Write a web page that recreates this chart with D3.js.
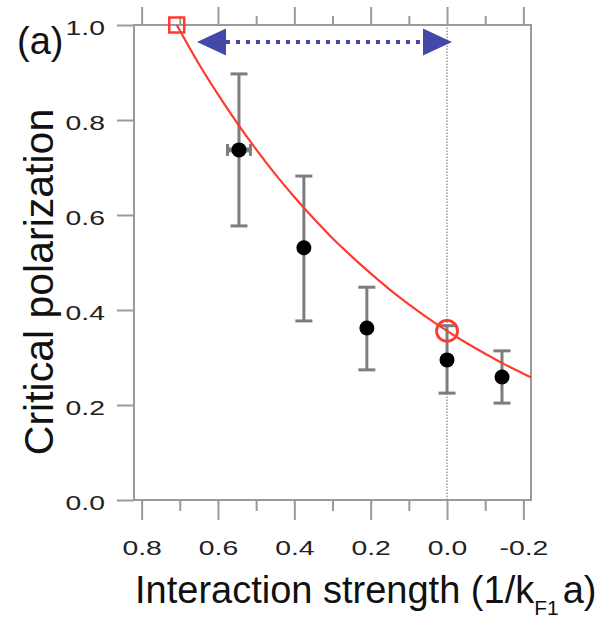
<!DOCTYPE html>
<html>
<head>
<meta charset="utf-8">
<script src="https://cdn.jsdelivr.net/npm/d3@7"></script>
<style>
  html, body { margin: 0; padding: 0; background: #fff; }
  svg { display: block; font-family: "Liberation Sans", Arial, Helvetica, sans-serif; }
</style>
</head>
<body>
<svg id="chart" width="609" height="619"></svg>
<script>
// Measured critical polarization vs. interaction strength
const strength   = [0.545, 0.375, 0.21, 0.0, -0.144];
const critPol    = [0.737, 0.531, 0.362, 0.295, 0.259];
const errLow     = [0.577, 0.377, 0.274, 0.225, 0.204];
const errHigh    = [0.897, 0.682, 0.448, 0.367, 0.314];
const strengthErr = [0.03, 0, 0, 0, 0];

// Theory curve samples
const curveX = [0.708, 0.65, 0.6, 0.55, 0.5, 0.45, 0.4, 0.35, 0.3, 0.25, 0.2, 0.15, 0.1, 0.05, 0.0, -0.05, -0.1, -0.15, -0.2, -0.22];
const curveY = [1.0, 0.918, 0.854, 0.794, 0.738, 0.686, 0.638, 0.593, 0.551, 0.513, 0.477, 0.443, 0.412, 0.383, 0.356, 0.331, 0.308, 0.286, 0.266, 0.258];

// Special markers: square at full polarization, circle at unitarity
const squareMarker = [0.708, 1.0];
const circleMarker = [0.0, 0.356];

// Double arrow spanning the interaction range
const arrowSpan  = [0.655, -0.013];
const arrowLevel = 0.964;

// Axis ticks
const xMajor = [0.8, 0.6, 0.4, 0.2, 0.0, -0.2];
const xTickLabels = ["0.8", "0.6", "0.4", "0.2", "0.0", "-0.2"];
const xMinor = [0.7, 0.5, 0.3, 0.1, -0.1];
const yMajor = [0.0, 0.2, 0.4, 0.6, 0.8, 1.0];
const yTickLabels = ["0.0", "0.2", "0.4", "0.6", "0.8", "1.0"];

const svg = d3.select("#chart");
const L = 134, R = 531, T = 25, B = 500;

const x = d3.scaleLinear().domain([0.82, -0.22]).range([L, R]);
const y = d3.scaleLinear().domain([0, 1]).range([B, T]);

const axisColor = "#9a9a9a";
const labelScale = 1.35;

function styleAxis(g) {
  g.select(".domain").remove();
  g.selectAll(".tick line").attr("stroke", axisColor).attr("stroke-width", 2);
}

// Bottom axis: major with labels, minor without
svg.append("g").attr("transform", `translate(0,${B})`)
  .call(d3.axisBottom(x).tickValues(xMajor).tickSize(20)
    .tickFormat((d, i) => xTickLabels[i]))
  .call(styleAxis)
  .call(g => g.selectAll(".tick text")
    .attr("y", 55).attr("dy", 0)
    .attr("font-size", 21).attr("fill", "#222")
    .attr("font-family", "Liberation Sans, Arial, sans-serif")
    .attr("transform", `scale(${labelScale},1)`));
svg.append("g").attr("transform", `translate(0,${B})`)
  .call(d3.axisBottom(x).tickValues(xMinor).tickSize(11).tickFormat(""))
  .call(styleAxis);

// Top axis mirrors the ticks
svg.append("g").attr("transform", `translate(0,${T})`)
  .call(d3.axisTop(x).tickValues(xMajor).tickSize(18).tickFormat(""))
  .call(styleAxis);
svg.append("g").attr("transform", `translate(0,${T})`)
  .call(d3.axisTop(x).tickValues(xMinor).tickSize(9).tickFormat(""))
  .call(styleAxis);

// Left axis
svg.append("g").attr("transform", `translate(${L},0)`)
  .call(d3.axisLeft(y).tickValues(yMajor).tickSize(17)
    .tickFormat((d, i) => yTickLabels[i]))
  .call(styleAxis)
  .call(g => g.selectAll(".tick text")
    .attr("x", -29 / labelScale).attr("dy", "0.47em")
    .attr("font-size", 21).attr("fill", "#222")
    .attr("font-family", "Liberation Sans, Arial, sans-serif")
    .attr("transform", `scale(${labelScale},1)`));

// Plot frame
svg.append("rect")
  .attr("x", L).attr("y", T).attr("width", R - L).attr("height", B - T)
  .attr("fill", "none").attr("stroke", axisColor).attr("stroke-width", 2);

// Dotted guide at zero interaction
svg.append("line")
  .attr("x1", x(0)).attr("x2", x(0)).attr("y1", y(0)).attr("y2", y(1))
  .attr("stroke", "#8a8a8a").attr("stroke-width", 1.3)
  .attr("stroke-dasharray", "1.5,1.5");

const pts = strength.map((s, i) => ({
  s, p: critPol[i], lo: errLow[i], hi: errHigh[i], se: strengthErr[i]
}));

// Vertical error bars with caps
const errColor = "#7d7d7d";
const cap = 8.5;
const eb = svg.append("g").attr("stroke", errColor).attr("stroke-width", 3).attr("fill", "none");
pts.forEach(d => {
  eb.append("line").attr("x1", x(d.s)).attr("x2", x(d.s)).attr("y1", y(d.lo)).attr("y2", y(d.hi));
  eb.append("line").attr("x1", x(d.s) - cap).attr("x2", x(d.s) + cap).attr("y1", y(d.lo)).attr("y2", y(d.lo));
  eb.append("line").attr("x1", x(d.s) - cap).attr("x2", x(d.s) + cap).attr("y1", y(d.hi)).attr("y2", y(d.hi));
  if (d.se > 0) {
    const x0 = x(d.s + d.se), x1 = x(d.s - d.se);
    eb.append("line").attr("x1", x0).attr("x2", x1).attr("y1", y(d.p)).attr("y2", y(d.p)).attr("stroke-width", 5);
    eb.append("line").attr("x1", x0).attr("x2", x0).attr("y1", y(d.p) - 6).attr("y2", y(d.p) + 6);
    eb.append("line").attr("x1", x1).attr("x2", x1).attr("y1", y(d.p) - 6).attr("y2", y(d.p) + 6);
  }
});

// Data points
svg.append("g").selectAll("circle").data(pts).join("circle")
  .attr("cx", d => x(d.s)).attr("cy", d => y(d.p)).attr("r", 7.5)
  .attr("fill", "#000");

// Theory curve
const red = "#ff3b2f";
const curvePts = curveX.map((cx, i) => [cx, curveY[i]]);
svg.append("path")
  .datum(curvePts)
  .attr("d", d3.line().x(d => x(d[0])).y(d => y(d[1])).curve(d3.curveMonotoneX))
  .attr("fill", "none").attr("stroke", red).attr("stroke-width", 2.2);

// Open square and circle markers
const sq = 15;
svg.append("rect")
  .attr("x", x(squareMarker[0]) - sq / 2).attr("y", y(squareMarker[1]) - sq / 2)
  .attr("width", sq).attr("height", sq)
  .attr("fill", "none").attr("stroke", red).attr("stroke-width", 2.5);
svg.append("circle")
  .attr("cx", x(circleMarker[0])).attr("cy", y(circleMarker[1])).attr("r", 10.5)
  .attr("fill", "none").attr("stroke", red).attr("stroke-width", 2.8);

// Double-headed dotted arrow
const blue = "#4448a8";
const ay = y(arrowLevel);
const xl = x(arrowSpan[0]), xr = x(arrowSpan[1]);
const headLen = 29, headHalf = 13.5;
svg.append("line")
  .attr("x1", xl + headLen).attr("x2", xr - headLen).attr("y1", ay).attr("y2", ay)
  .attr("stroke", blue).attr("stroke-width", 4).attr("stroke-dasharray", "4,6");
svg.append("path")
  .attr("d", `M${xl},${ay} L${xl + headLen},${ay - headHalf} L${xl + headLen},${ay + headHalf} Z`)
  .attr("fill", blue);
svg.append("path")
  .attr("d", `M${xr},${ay} L${xr - headLen},${ay - headHalf} L${xr - headLen},${ay + headHalf} Z`)
  .attr("fill", blue);

// Panel tag
svg.append("text").attr("x", 17).attr("y", 54)
  .attr("font-size", 38).attr("fill", "#111").text("(a)");

// Axis titles
svg.append("text")
  .attr("transform", "translate(53,282) rotate(-90)")
  .attr("text-anchor", "middle").attr("font-size", 41).attr("fill", "#111")
  .text("Critical polarization");

const xt = svg.append("text").attr("x", 135).attr("y", 603)
  .attr("font-size", 38).attr("fill", "#111");
xt.append("tspan").text("Interaction strength (1/k");
xt.append("tspan").attr("font-size", 21).attr("dy", 12).text("F1");
xt.append("tspan").attr("dy", -12).attr("dx", 4).text("a)");
</script>
</body>
</html>
